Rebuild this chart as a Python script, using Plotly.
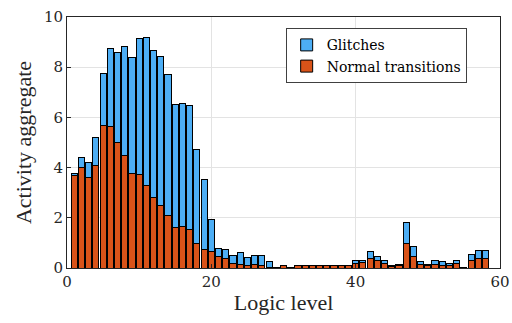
import plotly.graph_objects as go

levels = list(range(1, 59))
total = [3.77, 4.42, 4.20, 5.18, 7.76, 8.73, 8.60, 8.82, 8.38, 9.15,
         9.17, 8.65, 8.41, 7.70, 6.52, 6.57, 6.49, 4.73, 3.51, 1.92,
         0.77, 0.74, 0.48, 0.60, 0.41, 0.49, 0.50, 0.24, 0.02, 0.10,
         0.02, 0.10, 0.10, 0.10, 0.10, 0.10, 0.10, 0.10, 0.10, 0.30,
         0.30, 0.66, 0.45, 0.30, 0.09, 0.15, 1.83, 0.86, 0.26, 0.15,
         0.29, 0.26, 0.19, 0.30, 0.03, 0.53, 0.68, 0.68]
normal = [3.68, 4.01, 3.62, 4.08, 5.68, 5.63, 5.02, 4.50, 3.77, 3.73,
          3.30, 2.81, 2.48, 2.09, 1.62, 1.67, 1.52, 0.99, 0.75, 0.67,
          0.47, 0.38, 0.16, 0.12, 0.08, 0.12, 0.08, 0.03, 0.01, 0.08,
          0.01, 0.08, 0.08, 0.08, 0.08, 0.08, 0.08, 0.08, 0.08, 0.17,
          0.22, 0.36, 0.28, 0.17, 0.07, 0.08, 0.99, 0.44, 0.12, 0.08,
          0.12, 0.11, 0.09, 0.17, 0.02, 0.28, 0.36, 0.36]
glitches = [round(t - n, 3) for t, n in zip(total, normal)]

FF = "DejaVu Serif"
FT = "Liberation Serif"

fig = go.Figure()
fig.add_trace(go.Bar(x=levels, y=normal, name="Normal transitions",
                     marker=dict(color="#D95319", line=dict(color="black", width=1)),
                     width=0.85))
fig.add_trace(go.Bar(x=levels, y=glitches, name="Glitches",
                     marker=dict(color="#4DAEF5", line=dict(color="black", width=1)),
                     width=0.85))

fig.update_layout(
    barmode="stack",
    width=512, height=323,
    margin=dict(l=67, r=12, t=17, b=55, autoexpand=False),
    paper_bgcolor="white", plot_bgcolor="white",
    font=dict(family=FT, color="#262626", size=17),
    showlegend=True,
    legend=dict(x=0.505, y=0.955, xanchor="left", yanchor="top",
                traceorder="reversed",
                bgcolor="white", bordercolor="#404040", borderwidth=1,
                font=dict(family=FF, size=14, color="black"),
                tracegroupgap=0),
    xaxis=dict(range=[0, 60], tickvals=[0, 20, 40, 60], automargin=False,
               tickfont=dict(family=FF, size=15, color="#262626"),
               showgrid=True, gridcolor="#E3E3E3", gridwidth=1,
               showline=True, linecolor="#262626", linewidth=1, mirror=True,
               ticks="inside", ticklen=4, tickcolor="#262626",
               zeroline=False,
               title=dict(text="Logic level", font=dict(family=FT, size=22), standoff=4)),
    yaxis=dict(range=[0, 10], tickvals=[0, 2, 4, 6, 8, 10], automargin=False,
               tickfont=dict(family=FF, size=15, color="#262626"),
               showgrid=True, gridcolor="#E3E3E3", gridwidth=1,
               showline=True, linecolor="#262626", linewidth=1, mirror=True,
               ticks="inside", ticklen=4, tickcolor="#262626",
               zeroline=False,
               title=dict(text="Activity aggregate", font=dict(family=FT, size=22), standoff=6)),
)

fig.write_html("out.html")
